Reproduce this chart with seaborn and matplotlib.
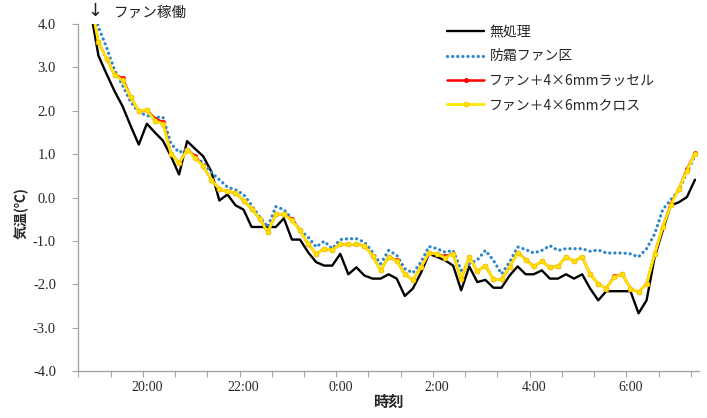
import numpy as np
import pandas as pd
import matplotlib
matplotlib.use("Agg")
import matplotlib.pyplot as plt
import seaborn as sns

# ---------------- data ----------------
times = [f"{t.hour}:{t.minute:02d}"
         for t in pd.date_range("2000-01-01 18:50", periods=76, freq="10min")]

series_names = ["無処理", "防霜ファン区", "ファン＋4×6mmラッセル", "ファン＋4×6mmクロス"]

untreated = [4.33, 3.27, 2.85, 2.45, 2.10, 1.65, 1.22, 1.70, 1.50, 1.31,
             0.95, 0.53, 1.30, 1.12, 0.95, 0.60, -0.07, 0.07, -0.18, -0.28,
             -0.68, -0.68, -0.68, -0.68, -0.48, -0.97, -0.97, -1.26, -1.49, -1.57,
             -1.57, -1.30, -1.77, -1.61, -1.80, -1.87, -1.87, -1.77, -1.87, -2.27,
             -2.10, -1.74, -1.30, -1.37, -1.45, -1.57, -2.14, -1.59, -1.95, -1.90,
             -2.08, -2.08, -1.80, -1.59, -1.77, -1.77, -1.68, -1.87, -1.87, -1.77,
             -1.87, -1.77, -2.10, -2.37, -2.16, -2.16, -2.16, -2.16, -2.67, -2.37,
             -1.37, -0.76, -0.18, -0.11, 0.01, 0.41]

fan = [4.55, 3.93, 3.46, 2.94, 2.58, 2.20, 1.97, 1.89, 1.85, 1.85,
       1.24, 1.04, 1.12, 0.93, 0.80, 0.58, 0.41, 0.24, 0.18, 0.07,
       -0.18, -0.45, -0.68, -0.21, -0.28, -0.49, -0.76, -0.91, -1.14, -1.01,
       -1.18, -0.97, -0.95, -0.95, -1.03, -1.26, -1.53, -1.22, -1.33, -1.64,
       -1.74, -1.49, -1.13, -1.18, -1.26, -1.22, -1.68, -1.53, -1.44, -1.22,
       -1.45, -1.76, -1.49, -1.14, -1.20, -1.28, -1.22, -1.11, -1.22, -1.18,
       -1.18, -1.18, -1.24, -1.21, -1.28, -1.28, -1.28, -1.30, -1.37, -1.18,
       -0.84, -0.28, -0.05, 0.16, 0.58, 0.97]

russell = [4.56, 3.58, 3.20, 2.83, 2.75, 2.31, 2.00, 2.02, 1.82, 1.74,
           1.01, 0.79, 1.10, 0.95, 0.72, 0.41, 0.19, 0.14, 0.11, -0.07,
           -0.26, -0.49, -0.80, -0.39, -0.39, -0.50, -0.76, -1.07, -1.30, -1.18,
           -1.21, -1.08, -1.08, -1.08, -1.11, -1.34, -1.68, -1.37, -1.45, -1.77,
           -1.90, -1.61, -1.28, -1.30, -1.36, -1.30, -1.89, -1.37, -1.70, -1.57,
           -1.89, -1.89, -1.61, -1.27, -1.43, -1.59, -1.47, -1.61, -1.59, -1.37,
           -1.47, -1.37, -1.77, -1.99, -2.10, -1.82, -1.77, -2.10, -2.18, -1.99,
           -1.30, -0.68, -0.15, 0.20, 0.65, 1.02]

cross = [4.56, 3.58, 3.20, 2.83, 2.70, 2.31, 2.00, 2.02, 1.77, 1.70,
         1.01, 0.79, 1.10, 0.91, 0.72, 0.41, 0.19, 0.14, 0.11, -0.07,
         -0.26, -0.49, -0.80, -0.39, -0.39, -0.53, -0.76, -1.07, -1.30, -1.18,
         -1.21, -1.08, -1.08, -1.08, -1.11, -1.34, -1.68, -1.37, -1.47, -1.77,
         -1.90, -1.61, -1.28, -1.30, -1.39, -1.30, -1.89, -1.37, -1.70, -1.57,
         -1.89, -1.89, -1.61, -1.27, -1.45, -1.59, -1.47, -1.61, -1.59, -1.37,
         -1.47, -1.37, -1.77, -1.99, -2.10, -1.84, -1.77, -2.10, -2.18, -1.99,
         -1.30, -0.68, -0.18, 0.20, 0.62, 1.01]

x_labels = ["20:00", "22:00", "0:00", "2:00", "4:00", "6:00"]
y_ticks = [-4, -3, -2, -1, 0, 1, 2, 3, 4]

# ---------------- style ----------------
sns.set_theme(style="white")
plt.rcParams["font.family"] = ["Noto Sans CJK JP", "DejaVu Sans"]

fig = plt.figure(figsize=(7.07, 4.18), dpi=100)
ax = fig.add_axes([78.3 / 707, 1 - 371 / 418, 620.7 / 707, 347 / 418])

pos = np.arange(len(times))

sns.lineplot(x=pos, y=untreated, ax=ax, color="black", linewidth=1.7,
             label=series_names[0])
sns.lineplot(x=pos, y=fan, ax=ax, color="#2E86C8", linewidth=2.3,
             linestyle=(0, (0.05, 1.55)), dash_capstyle="round",
             label=series_names[1])
sns.lineplot(x=pos, y=russell, ax=ax, color="#FF0000", linewidth=1.8,
             marker="o", markersize=3.6, markeredgewidth=0,
             label=series_names[2])
sns.lineplot(x=pos, y=cross, ax=ax, color="#FFE600", linewidth=2.0,
             marker="o", markersize=3.6, markeredgewidth=0.5,
             markeredgecolor="#F5B800", label=series_names[3])

ax.set_xlim(-1.5, len(times) - 0.5)
ax.set_ylim(-4, 4)

# x axis: labels at category centres, tick marks at category boundaries
label_pos = [times.index(t) for t in x_labels]
ax.set_xticks(label_pos)
ax.set_xticklabels(x_labels, family="Liberation Serif", fontsize=10)
ax.set_xticks(np.arange(-1.5, len(times) - 0.5, 4), minor=True)
ax.tick_params(axis="x", which="major", length=0, pad=7)
ax.tick_params(axis="x", which="minor", length=4, width=0.8,
               color="#A6A6A6", direction="out", bottom=True)

ax.set_yticks(y_ticks)
ax.set_yticklabels([f"{v:.1f}" for v in y_ticks], family="Liberation Serif",
                   fontsize=10.5)
ax.tick_params(axis="y", which="major", length=4, width=0.8,
               color="#A6A6A6", direction="out", left=True, pad=12)

for s in ["top", "right"]:
    ax.spines[s].set_visible(False)
for s in ["left", "bottom"]:
    ax.spines[s].set_color("#A6A6A6")
    ax.spines[s].set_linewidth(1.0)

ax.grid(False)

ax.set_ylabel("気温(℃)", fontsize=10, fontweight="bold")
ax.yaxis.set_label_coords(-0.079, 0.455)
ax.set_xlabel("時刻", fontsize=11, fontweight="bold")
ax.xaxis.set_label_coords(0.499, -0.066)

leg = ax.legend(loc="upper left", bbox_to_anchor=(447 / 707, 1 - 25 / 418),
                bbox_transform=fig.transFigure, frameon=False, fontsize=10,
                handlelength=2.7, handletextpad=0.35, labelspacing=0.75,
                borderpad=0, borderaxespad=0)

fig.text(95 / 707, 1 - 11 / 418, "↓", ha="center", va="center", fontsize=13,
         family=["DejaVu Sans"], color="#222222")
fig.text(114 / 707, 1 - 13 / 418, "ファン稼働", ha="left", va="center",
         fontsize=10.5, color="#222222")

fig.savefig("out.png", dpi=100)
